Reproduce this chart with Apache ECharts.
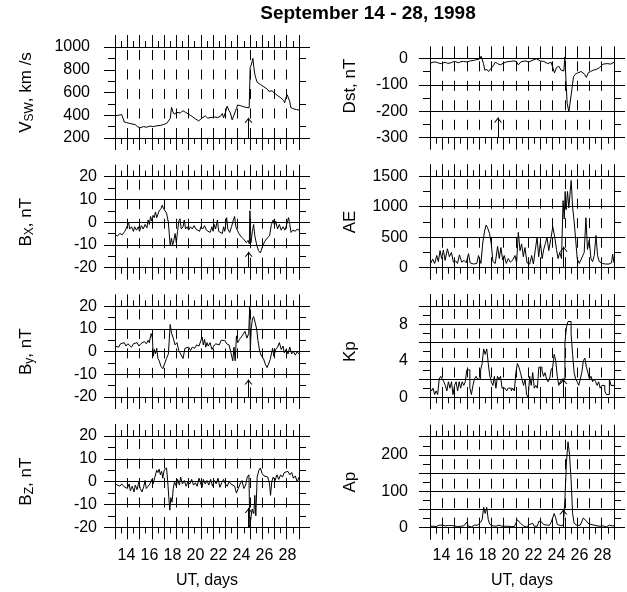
<!DOCTYPE html>
<html>
<head>
<meta charset="utf-8">
<script src="https://cdn.jsdelivr.net/npm/echarts@6/dist/echarts.min.js"></script>
<style>
  html, body { margin: 0; padding: 0; background: #fff; }
  #chart { width: 627px; height: 592px; }
</style>
</head>
<body>
<div id="chart"></div>
<script>
// September 14 - 28, 1998: solar wind / IMF / geomagnetic indices, 8 stacked panels

// ---- data: [day, value] ----
const vswData = [[14.00,396],[14.27,400],[14.55,405],[14.68,400],[14.76,340],[14.95,335],[15.20,328],[15.36,325],[15.64,318],[15.83,300],[16.05,290],[16.20,298],[16.32,300],[16.45,292],[16.59,295],[16.75,302],[16.86,305],[17.00,298],[17.14,300],[17.30,306],[17.41,308],[17.55,304],[17.68,310],[17.82,314],[17.95,318],[18.10,325],[18.23,330],[18.36,350],[18.50,370],[18.61,470],[18.72,430],[18.83,410],[18.95,418],[19.05,425],[19.20,415],[19.32,420],[19.45,430],[19.54,440],[19.65,428],[19.75,425],[19.88,418],[20.00,410],[20.14,398],[20.27,390],[20.40,380],[20.54,370],[20.68,360],[20.82,350],[20.95,362],[21.09,375],[21.22,385],[21.36,395],[21.46,382],[21.55,375],[21.70,378],[21.83,380],[21.96,372],[22.10,385],[22.24,376],[22.37,380],[22.48,372],[22.59,390],[22.75,415],[22.85,378],[22.92,385],[23.02,430],[23.14,480],[23.30,440],[23.41,420],[23.55,360],[23.68,395],[23.80,430],[23.90,460],[24.00,490],[24.09,505],[24.20,485],[24.28,470],[24.40,478],[24.50,475],[24.65,470],[24.77,465],[24.94,465],[25.02,820],[25.10,840],[25.24,900],[25.32,820],[25.40,760],[25.50,720],[25.59,690],[25.72,680],[25.86,670],[26.00,660],[26.14,650],[26.28,640],[26.41,630],[26.55,610],[26.68,605],[26.80,615],[26.90,630],[27.00,595],[27.09,580],[27.22,575],[27.36,570],[27.50,555],[27.64,540],[27.75,530],[27.83,510],[27.95,560],[28.04,580],[28.12,570],[28.18,565],[28.25,520],[28.32,470],[28.45,460],[28.59,455],[28.80,450],[29.00,445]];

const bxData = [[14.00,-5.5],[14.20,-6],[14.40,-5],[14.60,-5.5],[14.80,-4],[14.95,-4.5],[15.05,-1],[15.10,0],[15.20,-3],[15.35,-2],[15.50,-4],[15.60,-2],[15.75,-3.5],[15.90,-2],[16.00,-4],[16.15,-1.5],[16.30,-3],[16.45,-1],[16.60,-2.5],[16.70,1],[16.80,-1],[16.90,2.5],[17.00,0.5],[17.10,3],[17.20,2],[17.30,4.5],[17.40,2],[17.50,3.5],[17.60,5],[17.75,6],[17.85,7.5],[17.95,6],[18.05,6.5],[18.20,4],[18.35,0],[18.50,-10.5],[18.60,-7],[18.70,-10],[18.80,-8],[18.90,-5],[19.00,-9],[19.10,-4],[19.20,0.5],[19.30,1.5],[19.40,-3],[19.55,-2],[19.65,1],[19.75,-3],[19.90,-2],[20.00,-3.5],[20.15,-2],[20.30,-3],[20.45,-1.5],[20.60,-3],[20.75,-2.5],[20.90,-4],[21.00,-2],[21.15,-3],[21.30,-1.5],[21.45,-3.5],[21.60,-3],[21.75,-4.5],[21.90,-2],[22.00,-4],[22.10,-1],[22.20,-3],[22.35,1],[22.45,-4],[22.60,-3.5],[22.75,-5],[22.85,-2],[22.95,-4],[23.10,2],[23.20,-3],[23.35,-4.5],[23.50,-2],[23.65,1],[23.75,2.5],[23.85,-2],[23.95,-1.5],[24.10,-5],[24.30,-6.5],[24.50,-7.5],[24.70,-9],[24.85,-8],[24.95,-9.5],[25.00,5],[25.08,-9],[25.20,-4],[25.30,-1],[25.40,-6],[25.55,-10],[25.70,-12.5],[25.85,-13.5],[26.00,-11],[26.20,-8.5],[26.40,-7],[26.60,-6],[26.75,-1],[26.90,1],[27.00,-1.5],[27.10,0.5],[27.25,-3],[27.40,-1],[27.55,-3.5],[27.70,-2],[27.85,-3.5],[28.00,-1],[28.15,2],[28.25,-1],[28.35,-4.5],[28.50,-3.5],[28.70,-4],[28.85,-3],[29.00,-3.5]];

const byData = [[14.00,2.5],[14.15,3],[14.30,2],[14.45,3.5],[14.60,3],[14.75,4],[14.90,2.5],[15.05,3.5],[15.20,3],[15.35,2],[15.50,3.5],[15.65,3],[15.80,4],[15.95,2.5],[16.10,3.5],[16.25,3],[16.40,4.5],[16.55,3.5],[16.70,5],[16.80,4],[16.90,7],[16.95,8],[17.05,6],[17.12,-2],[17.20,1],[17.30,-1],[17.40,1.5],[17.50,-3],[17.60,-4],[17.75,-6.5],[17.90,-7.5],[18.05,-7],[18.20,-3],[18.35,-1],[18.50,12],[18.62,8],[18.75,6],[18.90,3],[19.05,4],[19.20,0.5],[19.35,-1],[19.55,-3],[19.70,1.5],[19.85,1],[20.00,2],[20.15,0.5],[20.30,2],[20.50,1.5],[20.65,3],[20.85,2.5],[21.00,2],[21.10,6.5],[21.20,3],[21.30,5.5],[21.40,2],[21.50,4],[21.60,2.5],[21.75,4],[21.90,1],[22.05,2.5],[22.20,3.5],[22.35,4],[22.50,3],[22.65,5],[22.80,4.5],[22.95,5],[23.10,3.5],[23.30,3],[23.45,-0.5],[23.60,-4],[23.70,2],[23.80,-4],[23.90,7],[24.00,4],[24.15,5.5],[24.30,6.5],[24.45,7],[24.60,9],[24.75,6],[24.90,8],[24.98,20],[25.03,0],[25.10,10],[25.20,14.5],[25.30,15.5],[25.42,13],[25.55,10],[25.65,5],[25.80,0],[25.95,-2],[26.10,-3],[26.25,-5.5],[26.40,-7],[26.55,-5],[26.65,-3.5],[26.75,-1],[26.85,1.5],[26.95,-2],[27.10,1],[27.25,2],[27.40,4],[27.55,1],[27.70,2.5],[27.80,-0.5],[27.95,1],[28.10,-1],[28.25,2],[28.40,-1],[28.55,0],[28.70,-1.5],[28.85,0],[29.00,-1]];

const bzData = [[14.00,-1],[14.20,-1.5],[14.40,-2],[14.55,-1],[14.70,-2],[14.85,-1.5],[15.00,-3],[15.15,-1],[15.25,-4],[15.40,-2],[15.55,-4.5],[15.65,-1.5],[15.80,-3.5],[15.95,0],[16.05,-3],[16.20,-4.5],[16.35,-2],[16.45,0.5],[16.55,-3],[16.70,-2],[16.85,-1],[17.00,1],[17.10,-1],[17.25,2],[17.40,5],[17.50,4],[17.60,5.5],[17.70,3],[17.80,4.5],[17.90,1.5],[18.00,5],[18.20,6],[18.30,0],[18.40,-8],[18.47,-12.5],[18.55,-7],[18.65,-9],[18.75,-3],[18.85,0],[19.00,-2],[19.10,1],[19.25,-1.5],[19.35,2],[19.50,-1],[19.65,0.5],[19.80,-2],[19.95,0],[20.10,-1],[20.25,1],[20.40,-1.5],[20.55,-0.5],[20.70,-2],[20.85,1.5],[21.00,-1],[21.10,-2.5],[21.20,1],[21.35,-1],[21.50,0.5],[21.65,-1.5],[21.80,1],[21.95,-2],[22.10,0.5],[22.25,-1],[22.40,1.5],[22.55,-2.5],[22.70,-0.5],[22.85,1],[23.00,-1],[23.15,-2],[23.30,0],[23.45,-1],[23.60,-1.5],[23.75,-2],[23.90,-5],[24.05,-5.5],[24.20,-1],[24.35,0.5],[24.50,-3],[24.65,-1.5],[24.78,2],[24.92,3],[24.99,-20],[25.10,-15],[25.18,-12],[25.32,-14],[25.40,-6],[25.48,-15],[25.59,2],[25.73,5],[25.85,6],[26.00,3.5],[26.15,2.5],[26.30,3],[26.45,2],[26.60,-1],[26.68,-6],[26.78,0],[26.90,2],[27.05,0.5],[27.20,3],[27.35,1],[27.50,3],[27.65,2],[27.80,4],[27.95,3.5],[28.10,4.5],[28.25,3],[28.40,4],[28.55,1.5],[28.70,2.5],[28.85,0],[29.00,2]];

const dstData = [[14.05,-18],[14.30,-14],[14.55,-15],[14.75,-19],[14.95,-20],[15.23,-15],[15.45,-19],[15.64,-18],[15.85,-14],[16.05,-12],[16.32,-17],[16.50,-13],[16.73,-12],[17.00,-14],[17.27,-10],[17.55,-8],[17.82,-5],[18.04,-3],[18.17,8],[18.28,5],[18.36,-20],[18.47,-45],[18.64,-42],[18.77,-50],[18.91,-45],[19.13,-30],[19.32,-15],[19.51,-20],[19.73,-25],[20.00,-18],[20.27,-13],[20.55,-12],[20.82,-10],[21.04,-12],[21.20,-25],[21.42,-13],[21.77,-10],[22.05,-14],[22.32,-8],[22.67,-2],[23.00,-10],[23.27,-12],[23.60,-20],[23.87,-15],[24.15,-55],[24.31,-35],[24.50,-30],[24.69,-45],[24.91,-48],[24.99,5],[25.18,-170],[25.32,-202],[25.43,-207],[25.56,-120],[25.70,-70],[25.86,-60],[26.05,-55],[26.33,-50],[26.60,-60],[26.74,-72],[26.90,-55],[27.09,-50],[27.31,-45],[27.56,-42],[27.83,-35],[28.10,-22],[28.45,-20],[28.73,-22],[29.00,-15]];

const aeData = [[14.05,70],[14.22,140],[14.38,70],[14.55,200],[14.68,100],[14.82,280],[14.95,150],[15.09,290],[15.23,120],[15.42,310],[15.58,180],[15.75,250],[15.91,90],[16.10,110],[16.24,70],[16.40,210],[16.59,90],[16.78,120],[16.95,80],[17.14,230],[17.27,80],[17.55,60],[17.82,70],[17.95,200],[18.15,70],[18.31,420],[18.45,600],[18.58,700],[18.72,640],[18.85,560],[18.99,400],[19.13,100],[19.32,70],[19.51,350],[19.65,150],[19.78,330],[19.92,130],[20.05,200],[20.22,70],[20.38,150],[20.55,90],[20.76,130],[20.93,200],[21.06,80],[21.20,580],[21.34,280],[21.47,390],[21.61,180],[21.74,330],[21.91,80],[22.13,60],[22.29,200],[22.43,60],[22.59,300],[22.73,500],[22.86,180],[23.00,420],[23.14,150],[23.27,300],[23.41,400],[23.54,500],[23.68,280],[23.84,460],[24.01,670],[24.17,500],[24.31,300],[24.44,150],[24.58,250],[24.72,150],[24.85,1100],[24.94,800],[25.02,1250],[25.10,950],[25.21,1250],[25.32,980],[25.43,1250],[25.51,1430],[25.62,1000],[25.73,800],[25.86,500],[26.00,150],[26.17,70],[26.33,60],[26.46,200],[26.57,250],[26.71,820],[26.84,300],[26.98,450],[27.12,150],[27.25,100],[27.39,200],[27.53,530],[27.66,200],[27.80,100],[28.04,70],[28.32,60],[28.59,60],[28.80,80],[28.89,220],[29.00,80]];

// 3-hourly Kp and ap, starting Sept 14 00 UT
const kpValues = [
  1.0,0.7,1.0,0.3,0.7,0.3,2.0,2.3,
  2.0,1.7,1.3,0.7,1.7,1.0,1.7,0.3,
  1.3,1.7,0.7,1.7,1.0,1.7,1.3,1.7,
  3.0,3.0,1.0,0.3,1.3,2.0,2.3,2.0,
  2.0,3.0,3.7,5.3,4.7,5.3,3.7,2.3,
  1.7,1.3,2.3,1.0,2.3,2.0,2.3,1.0,
  1.0,1.0,0.7,1.0,1.0,0.7,1.0,0.7,
  2.7,3.7,3.3,2.7,2.0,1.3,2.0,0.3,
  0.0,2.3,1.3,2.7,1.0,1.3,1.0,3.3,
  3.3,3.0,2.3,2.7,2.0,1.7,2.0,3.0,
  3.3,4.7,4.0,2.3,1.3,1.7,2.0,2.0,
  6.0,7.7,8.3,8.3,7.0,4.7,2.7,2.0,
  1.7,1.3,2.0,2.7,4.0,4.3,3.3,2.7,
  2.0,2.3,1.7,2.0,1.7,1.3,1.7,1.0,
  1.3,1.3,0.7,0.3,0.3,2.0,1.3,1.3
];
const apValues = [
  4,3,4,2,3,2,7,9,
  7,6,5,3,6,4,6,2,
  5,6,3,6,4,6,5,6,
  15,4,3,2,5,7,9,7,
  7,15,22,56,39,56,22,9,
  6,5,9,4,9,7,9,4,
  4,4,3,4,4,3,4,3,
  12,22,18,12,7,5,7,2,
  0,9,5,12,4,5,4,18,
  18,15,9,12,7,6,7,15,
  18,39,27,9,5,6,7,7,
  80,180,236,200,132,39,12,7,
  6,5,7,12,27,32,18,12,
  7,9,6,7,6,5,6,4,
  5,5,3,2,2,7,5,5,
  5
];

// x tick labels (bottom row)
const dayLabels = [14, 16, 18, 20, 22, 24, 26, 28];

// event arrows: [day, base value, tip value]
const vswArrow = [24.88, 200, 378];
const bxArrow = [24.9, -20, -13];
const byArrow = [24.88, -20, -12.3];
const bzArrow = [24.9, -20, -11.5];
const dstArrow = [19.54, -300, -224];
const aeArrow = [24.9, 0, 344];
const kpArrow = [24.87, 0, 2];
const apArrow = [24.87, 0, 50];

const FONT = '"Liberation Sans", Arial, Helvetica, sans-serif';
const BLACK = '#000';
const PANEL_W = 184;
// chevron "^" with apex at the middle of its box
const ARROW = 'path://M0,0 L0.01,0 L0,0.01 Z M10,0 L9.99,0 L10,0.01 Z M1,10 L5,5 L9,10 L7.8,10 L5,6.6 L2.2,10 Z';

const kpData = kpValues.map((v, i) => [14 + i * 0.125, v]).concat([[29, kpValues[kpValues.length - 1]]]);
const apData = apValues.map((v, i) => [14 + i * 0.125, v]);

const grids = [], xAxes = [], yAxes = [], series = [];
const line = { color: BLACK, width: 1 };
const nameStyle = {
  color: BLACK, fontSize: 17, fontFamily: FONT,
  rich: {
    n: { fontSize: 17, fontFamily: FONT, color: BLACK },
    s: { fontSize: 12, fontFamily: FONT, color: BLACK, padding: [8, 0, 0, 0] },
    g: { fontSize: 17, fontFamily: FONT, width: 24 }
  }
};

function xAxis(gi, pos, split, minor) {
  return {
    gridIndex: gi, type: 'value', position: pos, min: 14, max: 29, interval: 1,
    axisLine: { show: true, onZero: false, lineStyle: line },
    axisTick: { show: true, inside: false, length: 12, lineStyle: line },
    minorTick: { show: minor, splitNumber: 2, length: 6, lineStyle: line },
    axisLabel: { show: false },
    splitLine: { show: split, lineStyle: { color: BLACK, width: 1, type: [10, 9.5], dashOffset: 16.5 } },
    minorSplitLine: { show: false }
  };
}

function labelAxis(gi) {
  return {
    gridIndex: gi, type: 'value', position: 'bottom', min: 13, max: 29, interval: 1,
    axisLine: { show: false, onZero: false }, axisTick: { show: false }, splitLine: { show: false },
    axisLabel: {
      show: true, interval: 0, margin: 20, color: BLACK, fontSize: 16, fontFamily: FONT,
      formatter: v => (dayLabels.indexOf(v) >= 0 ? String(v) : '')
    },
    name: 'UT, days', nameLocation: 'middle', nameGap: 45, nameMoveOverlap: false,
    nameTextStyle: { color: BLACK, fontSize: 16, fontFamily: FONT }
  };
}

function addPanel(p) {
  const gi = grids.length;
  grids.push({ left: p.left, top: p.top, width: PANEL_W, height: p.height, containLabel: false, outerBoundsMode: 'none' });

  const xi = xAxes.length;
  xAxes.push(xAxis(gi, 'bottom', true, true));
  xAxes.push(xAxis(gi, 'top', false, p.topMinor !== false));
  if (p.xLabels) xAxes.push(labelAxis(gi));

  const yi = yAxes.length;
  yAxes.push({
    gridIndex: gi, type: 'value', position: 'left', min: p.min, max: p.max, interval: p.interval,
    axisLine: { show: true, onZero: false, lineStyle: line },
    axisTick: { show: true, inside: false, length: 11, lineStyle: line },
    minorTick: { show: true, splitNumber: 2, length: 7, lineStyle: line },
    axisLabel: {
      margin: p.labelMargin, color: BLACK, fontSize: 16, fontFamily: FONT,
      formatter: p.labelEvery ? (v => (v % p.labelEvery === 0 ? String(v) : '')) : (v => String(v))
    },
    splitLine: { show: p.split !== false, lineStyle: { color: BLACK, width: 1, type: 'solid' } },
    name: p.name, nameLocation: 'middle', nameGap: p.nameGap, nameMoveOverlap: false,
    nameTextStyle: nameStyle
  });
  // right side: ticks only
  yAxes.push({
    gridIndex: gi, type: 'value', position: 'right', min: p.min, max: p.max,
    interval: p.rightInterval || p.interval,
    axisLine: { show: true, onZero: false, lineStyle: line },
    axisTick: { show: true, inside: false, length: 11, lineStyle: line },
    minorTick: { show: !p.rightInterval, splitNumber: 2, length: 7, lineStyle: line },
    axisLabel: { show: false }, splitLine: { show: false }
  });
  if (p.rightInterval) {
    yAxes.push({
      gridIndex: gi, type: 'value', position: 'right', min: p.min, max: p.max, interval: p.interval,
      axisLine: { show: false, onZero: false }, axisTick: { show: false },
      minorTick: { show: true, splitNumber: 2, length: 7, lineStyle: line },
      axisLabel: { show: false }, splitLine: { show: false }
    });
  }

  series.push({
    type: 'line', xAxisIndex: xi, yAxisIndex: yi, data: p.data,
    symbol: 'none', showSymbol: false, step: p.step || false, clip: p.clip !== false,
    lineStyle: { color: BLACK, width: 1 }, silent: true, animation: false,
    markLine: {
      silent: true, animation: false, symbol: ['none', ARROW], symbolSize: 10,
      label: { show: false }, emphasis: { disabled: true },
      itemStyle: { color: BLACK },
      lineStyle: { color: BLACK, width: 1, type: 'solid' },
      data: [[{ coord: [p.arrow[0], p.arrow[1]] }, { coord: [p.arrow[0], p.arrow[2]] }]]
    }
  });
}

// left column
addPanel({ left: 115, top: 47, height: 91, min: 200, max: 1000, interval: 200, rightInterval: 800, split: false,
  name: '{n|V}{s|SW}{n|, km /s}', nameGap: 79, labelMargin: 25, data: vswData, arrow: vswArrow });
addPanel({ left: 115, top: 176.7, height: 91, min: -20, max: 20, interval: 10,
  name: '{n|B}{s|X}{n|, nT}', nameGap: 79, labelMargin: 18, data: bxData, arrow: bxArrow });
addPanel({ left: 115, top: 306.4, height: 90.6, min: -20, max: 20, interval: 10,
  name: '{n|B}{s|y}{n|, nT}', nameGap: 79, labelMargin: 18, data: byData, arrow: byArrow });
addPanel({ left: 115, top: 436, height: 91.3, min: -20, max: 20, interval: 10, xLabels: true,
  name: '{n|B}{s|Z}{n|, nT}', nameGap: 79, labelMargin: 18, data: bzData, arrow: bzArrow });
// right column (leading spacer lifts the Dst title a little, as in the figure)
addPanel({ left: 430, top: 58.3, height: 79.4, min: -300, max: 0, interval: 100, topMinor: false, clip: false,
  name: '{g| }{n|Dst, nT}', nameGap: 71, labelMargin: 22, data: dstData, arrow: dstArrow });
addPanel({ left: 430, top: 176.2, height: 91.5, min: 0, max: 1500, interval: 500,
  name: 'AE', nameGap: 71, labelMargin: 22, data: aeData, arrow: aeArrow });
addPanel({ left: 430, top: 306, height: 91.3, min: 0, max: 10, interval: 2, labelEvery: 4, step: 'end',
  name: 'Kp', nameGap: 71, labelMargin: 22, data: kpData, arrow: kpArrow });
addPanel({ left: 430, top: 436.7, height: 91, min: 0, max: 250, interval: 50, labelEvery: 100, xLabels: true,
  name: 'Ap', nameGap: 71, labelMargin: 22, data: apData, arrow: apArrow });

const chart = echarts.init(document.getElementById('chart'));
chart.setOption({
  animation: false,
  backgroundColor: '#fff',
  textStyle: { fontFamily: FONT },
  graphic: [{
    type: 'text', x: 368, y: 14,
    style: { text: 'September 14 - 28, 1998', fill: BLACK, font: 'bold 19px ' + FONT, textAlign: 'center', textVerticalAlign: 'middle' }
  }],
  grid: grids,
  xAxis: xAxes,
  yAxis: yAxes,
  series: series
});
</script>
</body>
</html>
